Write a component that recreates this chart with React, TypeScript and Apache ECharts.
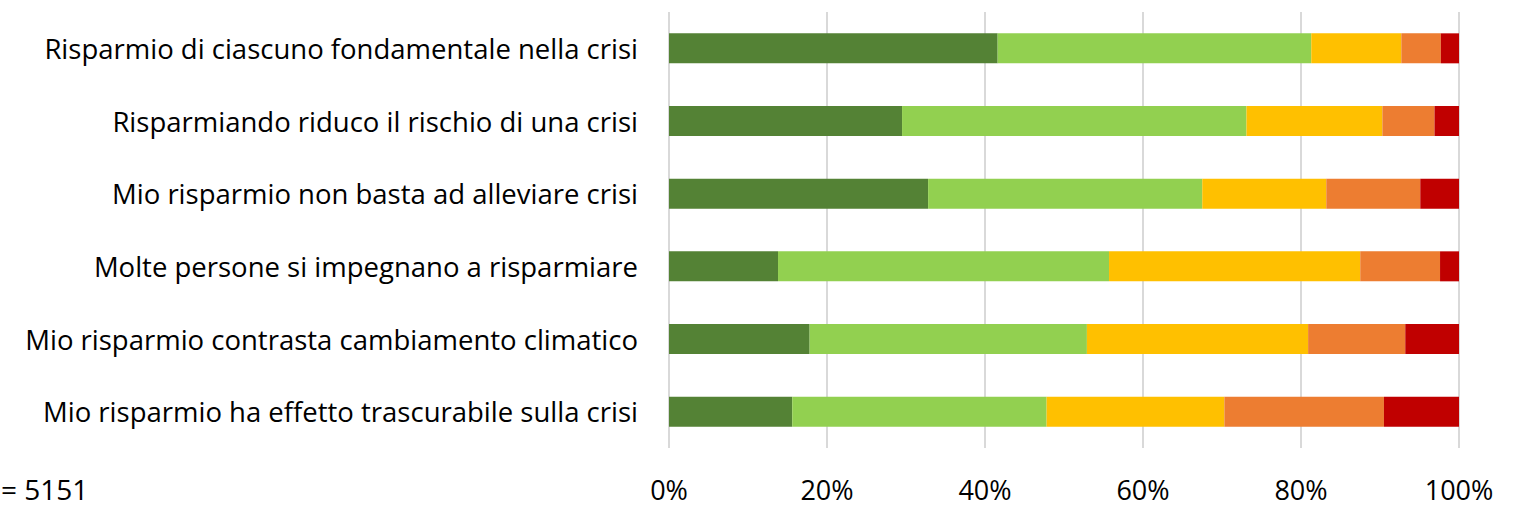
import React, { useEffect, useRef } from "react";
import * as echarts from "echarts";

const categories = [
  "Risparmio di ciascuno fondamentale nella crisi",
  "Risparmiando riduco il rischio di una crisi",
  "Mio risparmio non basta ad alleviare crisi",
  "Molte persone si impegnano a risparmiare",
  "Mio risparmio contrasta cambiamento climatico",
  "Mio risparmio ha effetto trascurabile sulla crisi",
];

const seriesNames = ["Molto d'accordo", "D'accordo", "Né d'accordo né in disaccordo", "In disaccordo", "Molto in disaccordo"];
const colors = ["#548235", "#92D050", "#FFC000", "#ED7D31", "#C00000"];

const s1 = [41.6, 29.5, 32.8, 13.8, 17.8, 15.6];
const s2 = [39.7, 43.6, 34.7, 41.9, 35.1, 32.2];
const s3 = [11.4, 17.2, 15.7, 31.8, 28.0, 22.5];
const s4 = [5.0, 6.6, 11.9, 10.1, 12.3, 20.2];
const s5 = [2.3, 3.1, 4.9, 2.4, 6.8, 9.5];
const seriesValues = [s1, s2, s3, s4, s5];

const noteText = "= 5151";

export default function App() {
  const ref = useRef<HTMLDivElement>(null);
  useEffect(() => {
    if (!ref.current) return;
    const chart = echarts.init(ref.current, null, { renderer: "svg" });
    const font = "'Open Sans', 'Noto Sans', sans-serif";
    chart.setOption({
      animation: false,
      backgroundColor: "#ffffff",
      textStyle: { fontFamily: font },
      grid: { left: 669, right: 61, top: 12, bottom: 62 },
      xAxis: {
        type: "value",
        min: 0,
        max: 100,
        interval: 20,
        axisLine: { show: false },
        axisTick: { show: false },
        axisLabel: {
          formatter: "{value}%",
          fontSize: 27,
          lineHeight: 28,
          color: "#000000",
          fontFamily: font,
          margin: 27,
        },
        splitLine: { show: true, lineStyle: { color: "#d9d9d9", width: 2 } },
      },
      yAxis: {
        type: "category",
        data: categories,
        inverse: true,
        axisLine: { show: false },
        axisTick: { show: false },
        axisLabel: { fontSize: 27.5, color: "#000000", fontFamily: font, margin: 31 },
      },
      series: seriesValues.map((vals, i) => ({
        name: seriesNames[i],
        type: "bar",
        stack: "total",
        barWidth: 30,
        data: vals,
        itemStyle: { color: colors[i] },
      })),
      graphic: [
        {
          type: "text",
          left: 1,
          top: 474,
          style: { text: noteText, fontSize: 28, lineHeight: 30, fill: "#000000", fontFamily: font },
        },
      ],
    });
    return () => chart.dispose();
  }, []);
  return (
    <div
      ref={ref}
      style={{ position: "fixed", left: 0, top: 0, width: 1520, height: 510 }}
    />
  );
}
